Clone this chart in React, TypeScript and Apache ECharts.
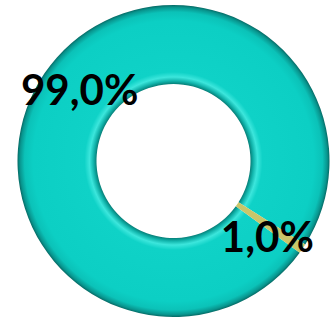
import React, { useEffect, useRef } from "react";
import * as echarts from "echarts";

const categories = ["A", "B"];
const values = [99.0, 1.0];
const labels = ["99,0%", "1,0%"];
const colors = ["#0ccfc4", "#c9c66a"];

export default function App() {
  const ref = useRef<HTMLDivElement>(null);
  useEffect(() => {
    document.body.style.margin = "0";
    const chart = echarts.init(ref.current!, null, { renderer: "svg" });
    const cx = 173.5;
    const cy = 161;
    const rOut = 156;
    const rIn = 77;
    const ringGrad = new echarts.graphic.RadialGradient(
      cx,
      cy,
      rOut,
      [
        { offset: rIn / rOut, color: "#067f78" },
        { offset: (rIn + 3) / rOut, color: "#10b3aa" },
        { offset: (rIn + 7) / rOut, color: "#3ce6dc" },
        { offset: (rIn + 12) / rOut, color: "#0fd2c7" },
        { offset: 0.9, color: "#0ccfc4" },
        { offset: 0.955, color: "#0bc2b8" },
        { offset: 0.985, color: "#08958e" },
        { offset: 1, color: "#066a65" },
      ],
      true
    );
    const offsets = [
      [5, -5],
      [-5, 8],
    ];
    chart.setOption({
      animation: false,
      series: [
        {
          type: "pie",
          center: [cx, cy],
          radius: [rIn, rOut],
          startAngle: -36,
          clockwise: true,
          silent: true,
          label: {
            show: true,
            position: "inside",
            formatter: (p: any) => labels[p.dataIndex],
            fontFamily: "Lato",
            fontWeight: "bold",
            fontSize: 42,
            color: "#000",
          },
          labelLine: { show: false },
          itemStyle: { borderWidth: 0 },
          data: categories.map((c, i) => ({
            name: c,
            value: values[i],
            itemStyle: { color: i === 0 ? ringGrad : colors[i] },
            label: { offset: offsets[i] },
          })),
        },
      ],
    });
    return () => chart.dispose();
  }, []);
  return <div ref={ref} style={{ width: 333, height: 320 }} />;
}
